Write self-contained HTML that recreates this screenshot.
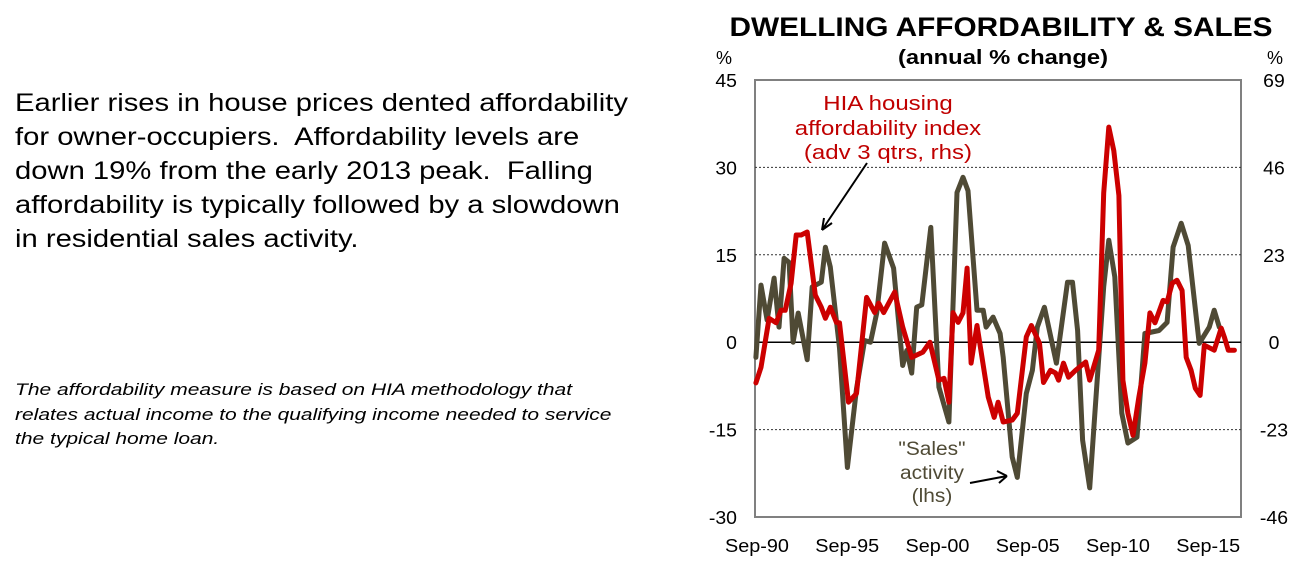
<!DOCTYPE html>
<html><head><meta charset="utf-8"><style>
body{margin:0;width:1314px;height:579px;background:#fff;overflow:hidden;font-family:"Liberation Sans",Arial,sans-serif}
.t{position:absolute;left:15px;font-size:25px;line-height:34px;color:#000;transform:scaleX(1.168);transform-origin:0 0;white-space:nowrap}
.i{position:absolute;left:15px;top:378px;font-size:17px;line-height:24.5px;font-style:italic;color:#000;transform:scaleX(1.235);transform-origin:0 0;white-space:nowrap}
</style></head><body>
<div class="t" style="top:86px">Earlier rises in house prices dented affordability<br>for owner-occupiers.&nbsp; Affordability levels are<br>down 19% from the early 2013 peak.&nbsp; Falling<br>affordability is typically followed by a slowdown<br>in residential sales activity.</div>
<div class="i">The affordability measure is based on HIA methodology that<br>relates actual income to the qualifying income needed to service<br>the typical home loan.</div>
<svg id="c" width="1314" height="579" style="position:absolute;left:0;top:0"></svg>
<script>
const salesDates=[1990.69,1990.97,1991.31,1991.70,1991.97,1992.25,1992.53,1992.75,1993.03,1993.53,1993.81,1994.31,1994.54,1994.81,1995.32,1995.76,1996.26,1996.71,1997.04,1997.38,1997.82,1998.32,1998.82,1999.05,1999.32,1999.60,1999.88,2000.38,2000.83,2001.38,2001.83,2002.16,2002.44,2002.94,2003.28,2003.44,2003.83,2004.22,2004.39,2004.89,2005.17,2005.67,2006.01,2006.28,2006.67,2007.34,2007.95,2008.23,2008.51,2008.79,2009.18,2009.57,2009.96,2010.24,2010.57,2010.96,2011.30,2011.80,2012.24,2013.02,2013.47,2013.80,2014.25,2014.64,2015.25,2015.81,2016.08,2016.36];
const salesValues=[-2.6,9.8,3.8,11,2.6,14.4,13.7,0,5,-3,9.5,10.3,16.3,12.9,-1,-21.5,-8,0.3,0,5,17,12.7,-4,-1.4,-5.3,6,6.4,19.7,-7.7,-13.7,25.7,28.3,26,5.5,5.5,2.6,4.3,1.5,-2.6,-19.7,-23.2,-8.8,-4.8,2.6,6,-3.6,10.3,10.3,2,-16.8,-25,-7.7,9.5,17.5,11.2,-12.2,-17.3,-16.3,1.5,2,3.4,16.3,20.4,16.6,-0.2,2.6,5.5,2.6];
const affDates=[1990.69,1990.97,1991.42,1991.81,1992.08,1992.31,1992.64,1992.92,1993.20,1993.53,1993.98,1994.31,1994.54,1994.81,1995.15,1995.32,1995.82,1996.26,1996.82,1997.27,1997.49,1997.77,1998.38,1998.82,1999.32,1999.94,2000.33,2000.83,2001.11,2001.38,2001.61,2001.89,2002.16,2002.39,2002.61,2002.94,2003.56,2003.89,2004.11,2004.39,2004.89,2005.17,2005.67,2005.95,2006.40,2006.62,2007.01,2007.29,2007.46,2007.73,2008.01,2008.40,2008.96,2009.18,2009.68,2009.96,2010.24,2010.52,2010.80,2011.02,2011.30,2011.58,2011.91,2012.24,2012.52,2012.80,2013.25,2013.47,2013.75,2014.02,2014.30,2014.53,2014.80,2015.03,2015.30,2015.53,2016.08,2016.47,2016.64,2016.86,2017.20];
const affValues=[-10.7,-6.6,6.3,5.1,8.4,8.4,15.5,28.2,28.2,29.0,12.4,9.2,6.3,9.2,5.2,5.1,-15.8,-13.5,11.8,7.8,10.3,7.8,13.2,4.0,-4.0,-2.6,0,-10.0,-9.5,-15.8,7.8,5.2,7.7,19.5,-5.5,4.4,-14.4,-19.8,-15.8,-21.0,-20.5,-18.7,1.4,4.4,-0.3,-10.6,-7.4,-8.1,-10.0,-5.5,-9.2,-7.4,-5.2,-10.0,-2.1,39.3,56.6,50.4,38.6,-10.0,-18.7,-24.5,-14.4,-5.5,7.7,5.1,11.0,10.6,15.5,16.3,13.6,-4.0,-7.4,-12.1,-14.0,-0.8,-2.1,3.7,1.4,-2.1,-2.1];
const leftTicks=[45,30,15,0,-15,-30];
const rightTicks=[69,46,23,0,-23,-46];
const xTickYears=[1990.75,1995.75,2000.75,2005.75,2010.75,2015.75];
const xTickLabels=["Sep-90","Sep-95","Sep-00","Sep-05","Sep-10","Sep-15"];
const L=755,R=1241,T=80,B=517;
const xs=y=>757+(y-1990.75)*18.05;
const yl=v=>T+(45-v)/75*(B-T);
const yr=v=>T+(69-v)/115*(B-T);
const svg=document.getElementById('c');const NS='http://www.w3.org/2000/svg';
function mk(tag,at,txt){const e=document.createElementNS(NS,tag);for(const k in at)e.setAttribute(k,at[k]);if(txt!==undefined)e.textContent=txt;svg.appendChild(e);return e;}
function stretch(el,k){const w=el.getComputedTextLength();el.setAttribute('textLength',(w*k).toFixed(1));el.setAttribute('lengthAdjust','spacingAndGlyphs');}
let e;
e=mk('rect',{x:L,y:T,width:R-L,height:B-T,fill:'#fff',stroke:'#808080','stroke-width':2});


leftTicks.forEach((v,i)=>{
 const y=yl(v);
 if(v!==45&&v!==-30&&v!==0){e=mk('line',{x1:L,x2:R,y1:y,y2:y,stroke:'#333','stroke-width':1,'stroke-dasharray':'2,2'});
 
 }
 e=mk('text',{x:737,y:y+7,'text-anchor':'end','font-size':18},String(v));
 
 
 stretch(e,1.08);
 e=mk('text',{x:1274,y:yr(rightTicks[i])+7,'text-anchor':'middle','font-size':18},String(rightTicks[i]));
 
 
 stretch(e,1.08);
});
e=mk('line',{x1:L,x2:R,y1:yl(0),y2:yl(0),stroke:'#000','stroke-width':1.5});


xTickYears.forEach((yy,i)=>{
 e=mk('text',{x:xs(yy),y:552,'text-anchor':'middle','font-size':18},xTickLabels[i]);
 
 
 stretch(e,1.1);
});
function line(d,v,f,col,name){
 e=mk('polyline',{points:d.map((t,i)=>xs(t).toFixed(1)+','+f(v[i]).toFixed(1)).join(' '),fill:'none',stroke:col,'stroke-width':5,'stroke-linejoin':'round','stroke-linecap':'round'});
 
 
}
line(salesDates,salesValues,yl,'#4f4a35','sales-activity-line');
line(affDates,affValues,yr,'#cc0000','affordability-line');
e=mk('text',{x:1001,y:36,'text-anchor':'middle','font-size':27,'font-weight':'bold',textLength:543,lengthAdjust:'spacingAndGlyphs'},'DWELLING AFFORDABILITY & SALES');


e=mk('text',{x:1003,y:64,'text-anchor':'middle','font-size':20,'font-weight':'bold',textLength:210,lengthAdjust:'spacingAndGlyphs'},'(annual % change)');


e=mk('text',{x:724,y:64,'text-anchor':'middle','font-size':18},'%');


e=mk('text',{x:1275,y:64,'text-anchor':'middle','font-size':18},'%');


[['HIA housing',110],['affordability index',135],['(adv 3 qtrs, rhs)',159]].forEach(a=>{
 e=mk('text',{x:888,y:a[1],'text-anchor':'middle','font-size':20,fill:'#c00000'},a[0]);
 
 
 stretch(e,1.2);
});
[['"Sales"',455],['activity',479],['(lhs)',502]].forEach(a=>{
 e=mk('text',{x:932,y:a[1],'text-anchor':'middle','font-size':19,fill:'#4f4a35'},a[0]);
 
 
 stretch(e,1.1);
});
e=mk('path',{d:'M867,163 L822,230 M822,230 L824,218 M822,230 L832,223',stroke:'#000','stroke-width':2,fill:'none'});


e=mk('path',{d:'M970,483 L1007,476 M1007,476 L997,471 M1007,476 L999,483',stroke:'#000','stroke-width':2,fill:'none'});


</script>
</body></html>
